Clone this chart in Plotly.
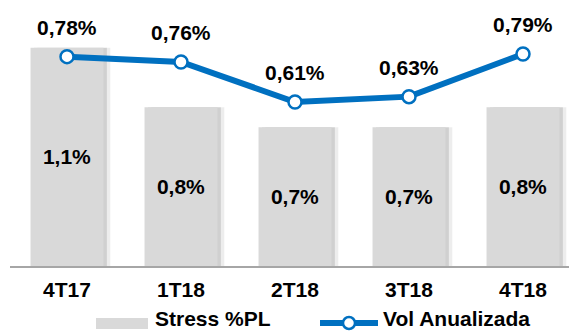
import plotly.graph_objects as go

# Quarterly market-risk figures
quarters = ["4T17", "1T18", "2T18", "3T18", "4T18"]
stress_pl = [1.1, 0.8, 0.7, 0.7, 0.8]          # Stress as % of PL (bars)
vol_anualizada = [0.78, 0.76, 0.61, 0.63, 0.79]  # annualized volatility (line)

BAR_GRAY = "#D9D9D9"
BLUE = "#0070C0"
FONT = "Arial, Liberation Sans, sans-serif"
FS = 21

W, H = 569, 332
M_L, M_R, M_T, M_B = 10, 0, 20, 66
PLOT_W = W - M_L - M_R
PLOT_H = H - M_T - M_B


def pct(v, digits):
    return f"{v:.{digits}f}%".replace(".", ",")


def px_to_paper(px, py):
    return (px - M_L) / PLOT_W, (H - M_B - py) / PLOT_H


fig = go.Figure()

bar_w = 0.64
# soft drop shadow to the right of each bar
for shift, alpha in [(0.06, 0.07), (0.03, 0.12)]:
    fig.add_trace(go.Bar(
        x=quarters, y=stress_pl, width=bar_w, offset=-bar_w / 2 + shift,
        marker=dict(color=f"rgba(0,0,0,{alpha})", line=dict(width=0)),
        hoverinfo="skip", showlegend=False,
    ))

fig.add_trace(go.Bar(
    x=quarters, y=stress_pl, width=bar_w, offset=-bar_w / 2,
    name="Stress %PL",
    marker=dict(color=BAR_GRAY, line=dict(width=0)),
    text=[pct(v, 1) for v in stress_pl],
    textposition="inside", insidetextanchor="middle",
    textfont=dict(family=FONT, size=FS, color="black", weight="bold"),
    showlegend=False,
))

fig.add_trace(go.Scatter(
    x=quarters, y=vol_anualizada, yaxis="y2", mode="lines+markers",
    name="Vol Anualizada",
    line=dict(color=BLUE, width=6),
    marker=dict(size=13, color="white", line=dict(color=BLUE, width=2.5)),
    showlegend=False, cliponaxis=False,
))

annotations = []
for q, v in zip(quarters, vol_anualizada):
    annotations.append(dict(
        x=q, y=v, xref="x", yref="y2", yshift=29, showarrow=False,
        text=pct(v, 2), xanchor="center", yanchor="middle",
        font=dict(family=FONT, size=FS, color="black", weight="bold"),
    ))

# legend drawn below the axis
shapes = []
x0, y0 = px_to_paper(96, 318)
x1, y1 = px_to_paper(148, 329)
shapes.append(dict(type="rect", xref="paper", yref="paper", x0=x0, x1=x1, y0=y0, y1=y1,
                   fillcolor=BAR_GRAY, line=dict(width=0)))
lx0, ly = px_to_paper(320, 323)
lx1, _ = px_to_paper(378, 323)
shapes.append(dict(type="line", xref="paper", yref="paper", x0=lx0, x1=lx1, y0=ly, y1=ly,
                   line=dict(color=BLUE, width=6)))
cx0, cy0 = px_to_paper(343, 317)
cx1, cy1 = px_to_paper(355, 329)
shapes.append(dict(type="circle", xref="paper", yref="paper", x0=cx0, x1=cx1, y0=cy1, y1=cy0,
                   fillcolor="white", line=dict(color=BLUE, width=2.5)))

for label, px in [("Stress %PL", 153), ("Vol Anualizada", 381)]:
    ax, ay = px_to_paper(px, 318)
    annotations.append(dict(
        x=ax, y=ay, xref="paper", yref="paper", showarrow=False,
        text=label, xanchor="left", yanchor="middle",
        font=dict(family=FONT, size=FS, color="black", weight="bold"),
    ))

fig.update_layout(
    width=W, height=H,
    margin=dict(l=M_L, r=M_R, t=M_T, b=M_B),
    paper_bgcolor="white", plot_bgcolor="white",
    barmode="overlay",
    xaxis=dict(
        type="category", range=[-0.5, -0.5 + PLOT_W / 114.0],
        showline=True, linecolor="#A6A6A6", linewidth=2,
        showgrid=False, zeroline=False, ticks="", ticklabelstandoff=4,
        tickfont=dict(family=FONT, size=FS, color="black", weight="bold"),
    ),
    yaxis=dict(range=[0, 1.24], visible=False, showgrid=False, zeroline=False),
    yaxis2=dict(range=[-0.005, -0.005 + PLOT_H / 266.7], overlaying="y",
                visible=False, showgrid=False, zeroline=False),
    shapes=shapes,
    annotations=annotations,
    showlegend=False,
)

fig.write_html("out.html")
